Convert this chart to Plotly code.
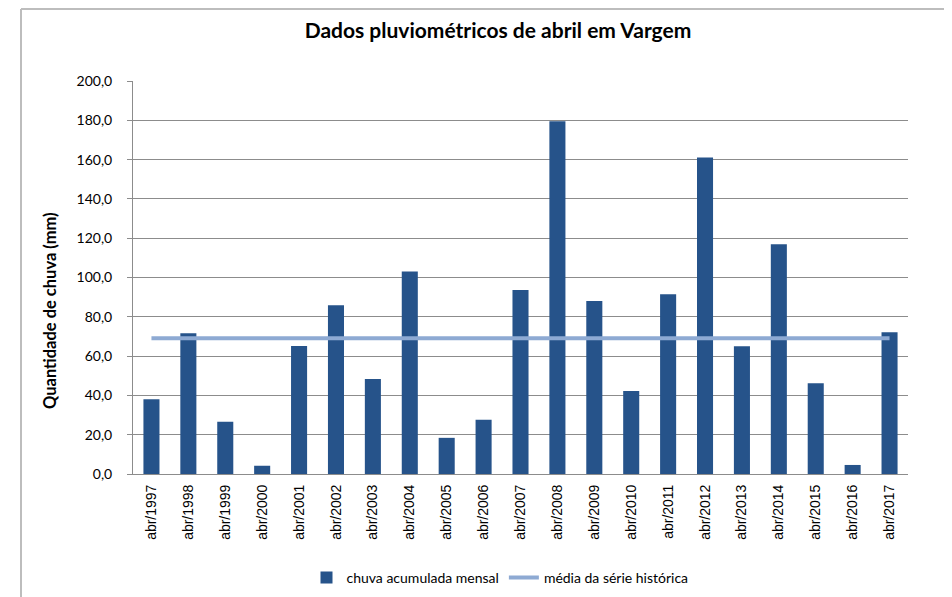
import plotly.graph_objects as go

categorias = ["abr/1997", "abr/1998", "abr/1999", "abr/2000", "abr/2001", "abr/2002",
              "abr/2003", "abr/2004", "abr/2005", "abr/2006", "abr/2007", "abr/2008",
              "abr/2009", "abr/2010", "abr/2011", "abr/2012", "abr/2013", "abr/2014",
              "abr/2015", "abr/2016", "abr/2017"]
chuva_mensal = [38.1, 71.6, 26.6, 4.2, 65.2, 85.9, 48.3, 103.1, 18.4, 27.6, 93.6,
                179.5, 88.1, 42.2, 91.5, 161.1, 65.0, 116.9, 46.2, 4.6, 72.2]
media_historica = [69.1, 69.1, 69.1, 69.1, 69.1, 69.1, 69.1, 69.1, 69.1, 69.1, 69.1,
                   69.1, 69.1, 69.1, 69.1, 69.1, 69.1, 69.1, 69.1, 69.1, 69.1]
y_ticks = [0, 20, 40, 60, 80, 100, 120, 140, 160, 180, 200]

# The page body adds an 8px offset; coordinates below are in figure pixels.
OFF = 8
W, H = 952, 597
L, R, T = 133 - OFF, W - (908 - OFF), 81 - OFF
B = H - (474 - OFF)
pw, ph = W - L - R, H - T - B

FONT = "Lato, 'Open Sans', sans-serif"

fig = go.Figure()
fig.add_trace(go.Bar(
    x=categorias, y=chuva_mensal, name="chuva acumulada mensal",
    marker=dict(color="#26538A", line=dict(width=0)),
))
fig.add_trace(go.Scatter(
    x=categorias, y=media_historica, name="média da série histórica",
    mode="lines", line=dict(color="#8EAAD3", width=4),
))

def px_x(x):
    return (x - OFF - L) / pw

def px_y(y):
    return (H - B - (y - OFF)) / ph

fig.update_layout(
    width=W, height=H,
    margin=dict(l=L, r=R, t=T, b=B),
    paper_bgcolor="white", plot_bgcolor="white",
    separators=",.",
    bargap=0.565,
    showlegend=True,
    font=dict(family=FONT, color="#000000"),
    title=dict(text="<b>Dados pluviométricos de abril em Vargem</b>",
               x=(498 - OFF) / W, xanchor="center", xref="container",
               y=1 - (31 - OFF) / H, yanchor="middle", yref="container",
               font=dict(family=FONT, size=21, color="#000000")),
    legend=dict(orientation="h", x=(500 - OFF) / W, xanchor="center", xref="container",
                y=1 - (578 - OFF) / H, yanchor="middle", yref="container",
                font=dict(family=FONT, size=14, color="#000000"),
                itemwidth=30, tracegroupgap=0),
    xaxis=dict(
        type="category", showgrid=False, showline=True, linecolor="#8C8C8C", linewidth=1,
        tickangle=-90, tickfont=dict(family="'Liberation Sans', Arial, sans-serif", size=14,
                                     color="#000000"),
        ticks="", ticklabelstandoff=4, fixedrange=True,
    ),
    yaxis=dict(
        range=[0, 200], tickvals=y_ticks, tickformat=".1f",
        showgrid=True, gridcolor="#8C8C8C", gridwidth=1,
        showline=True, linecolor="#8C8C8C", linewidth=1,
        ticks="outside", ticklen=5, tickcolor="#8C8C8C",
        ticklabelstandoff=12,
        tickfont=dict(family=FONT, size=14, color="#000000"),
        zeroline=False, fixedrange=True,
    ),
    annotations=[dict(
        text="<b>Quantidade de chuva (mm)</b>", textangle=-90,
        xref="paper", yref="paper", x=px_x(50), y=px_y(311),
        xanchor="center", yanchor="middle", showarrow=False,
        font=dict(family=FONT, size=16.5, color="#000000"),
    )],
    shapes=[
        dict(type="line", xref="paper", yref="paper",
             x0=px_x(21), x1=px_x(21), y0=px_y(OFF + 1), y1=px_y(H + 20),
             line=dict(color="#BDBDBD", width=2)),
        dict(type="line", xref="paper", yref="paper",
             x0=px_x(21), x1=px_x(W + 20), y0=px_y(OFF + 1), y1=px_y(OFF + 1),
             line=dict(color="#BDBDBD", width=2)),
    ],
)

fig.write_html("out.html")
